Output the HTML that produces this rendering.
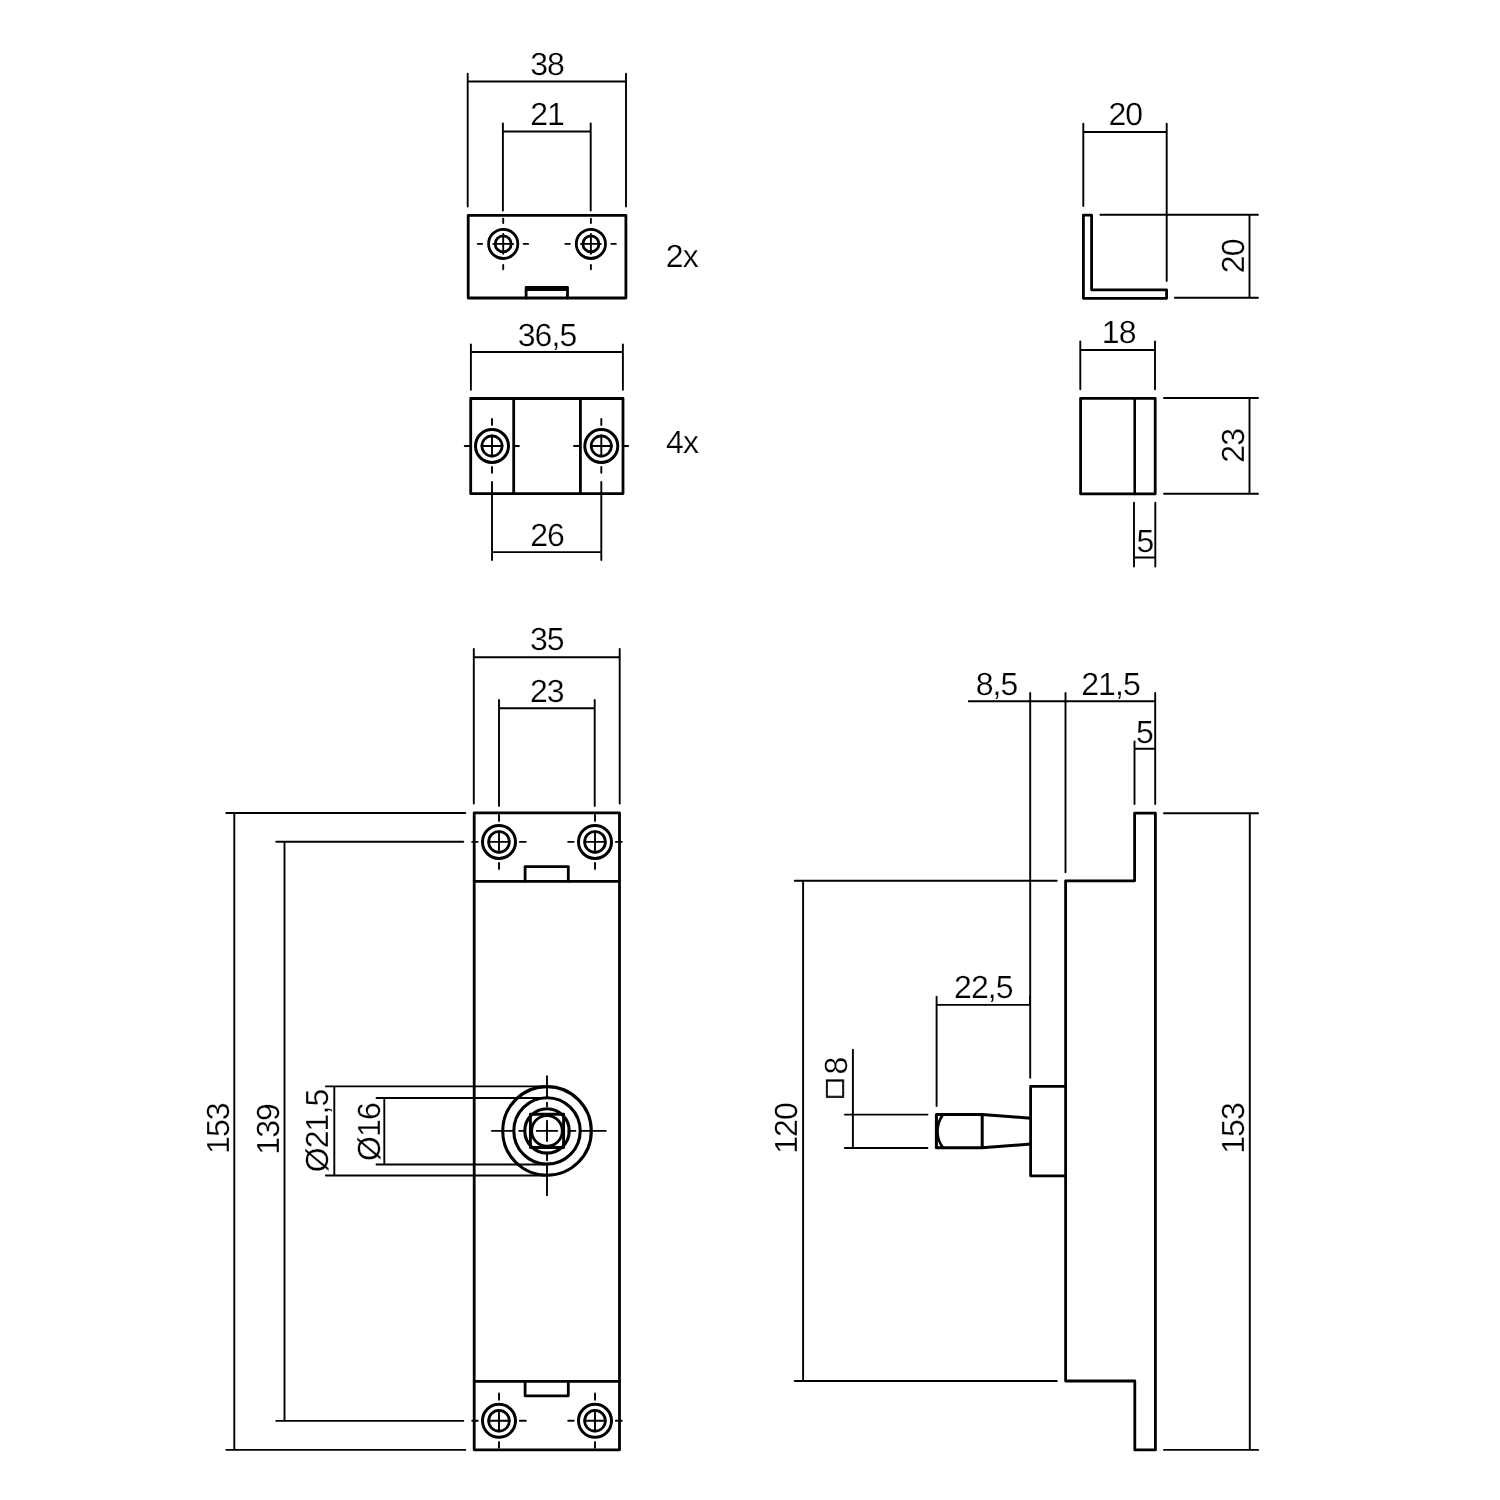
<!DOCTYPE html>
<html lang="en">
<head>
<meta charset="utf-8">
<title>Technical drawing</title>
<style>
html,body{margin:0;padding:0;background:#fff;}
body{width:1500px;height:1500px;overflow:hidden;}
svg{display:block;filter:grayscale(1);}
text{font-family:"Liberation Sans",sans-serif;fill:#000;stroke:#fff;stroke-width:0.25px;letter-spacing:-0.9px;paint-order:fill stroke;text-rendering:geometricPrecision;}
.sq{font-family:"DejaVu Sans",sans-serif;font-size:23px;stroke:#000;stroke-width:0.7px;letter-spacing:0;}
.t{stroke:#000;fill:none;stroke-linecap:round;}
.k{stroke:#000;fill:none;stroke-linejoin:round;stroke-linecap:round;}
</style>
</head>
<body>
<svg width="1500" height="1500" viewBox="0 0 1500 1500">
<rect width="1500" height="1500" fill="#fff"/>
<g class="labels">
<text x="547.05" y="74.7" text-anchor="middle" font-size="32">38</text>
<text x="547.05" y="124.8" text-anchor="middle" font-size="32">21</text>
<text x="665.8" y="266.5" text-anchor="start" font-size="32">2x</text>
<text x="547.05" y="345.5" text-anchor="middle" font-size="32">36,5</text>
<text x="547.05" y="546.1" text-anchor="middle" font-size="32">26</text>
<text x="666.1" y="452.9" text-anchor="start" font-size="32">4x</text>
<text x="1125.35" y="124.6" text-anchor="middle" font-size="32">20</text>
<text transform="translate(1244.4 256.25) rotate(-90)" text-anchor="middle" font-size="32">20</text>
<text x="1118.75" y="343.0" text-anchor="middle" font-size="32">18</text>
<text transform="translate(1244.4 445.85) rotate(-90)" text-anchor="middle" font-size="32">23</text>
<text x="1144.85" y="552.3" text-anchor="middle" font-size="32">5</text>
<text x="546.85" y="650.0" text-anchor="middle" font-size="32">35</text>
<text x="546.85" y="701.6" text-anchor="middle" font-size="32">23</text>
<text transform="translate(229.2 1128.65) rotate(-90)" text-anchor="middle" font-size="32">153</text>
<text transform="translate(279.4 1129.35) rotate(-90)" text-anchor="middle" font-size="32">139</text>
<text transform="translate(328.4 1130.95) rotate(-90)" text-anchor="middle" font-size="32">Ø21,5</text>
<text transform="translate(379.6 1132.05) rotate(-90)" text-anchor="middle" font-size="32">Ø16</text>
<text x="996.55" y="695.2" text-anchor="middle" font-size="32">8,5</text>
<text x="1110.55" y="695.2" text-anchor="middle" font-size="32">21,5</text>
<text x="1144.55" y="742.5" text-anchor="middle" font-size="32">5</text>
<text transform="translate(796.5 1128.45) rotate(-90)" text-anchor="middle" font-size="32">120</text>
<text x="983.35" y="998.4" text-anchor="middle" font-size="32">22,5</text>
<text transform="translate(847.3 1099.4) rotate(-90)" font-size="32"><tspan x="0" dy="-6.2" class="sq">□</tspan><tspan x="24.8" dy="6.2">8</tspan></text>
<text transform="translate(1244.2 1128.45) rotate(-90)" text-anchor="middle" font-size="32">153</text>
</g>
<g class="geometry">
<line x1="467.7" y1="73.7" x2="467.7" y2="206.6" class="t" stroke-width="1.9"/>
<line x1="626.0" y1="73.7" x2="626.0" y2="206.6" class="t" stroke-width="1.9"/>
<line x1="468.4" y1="81.5" x2="625.3" y2="81.5" class="t" stroke-width="1.9"/>
<line x1="502.9" y1="123.5" x2="502.9" y2="210.6" class="t" stroke-width="1.9"/>
<line x1="590.7" y1="123.5" x2="590.7" y2="210.6" class="t" stroke-width="1.9"/>
<line x1="503.6" y1="131.5" x2="590.0" y2="131.5" class="t" stroke-width="1.9"/>
<path d="M468.2,215.3H625.9V298H468.2Z" class="k" stroke-width="2.8"/>
<circle cx="503.2" cy="243.9" r="14.6" class="k" stroke-width="2.8"/>
<circle cx="503.2" cy="243.9" r="8.0" class="k" stroke-width="2.8"/>
<line x1="493.3" y1="243.9" x2="513.1" y2="243.9" class="t" stroke-width="1.9"/>
<line x1="503.2" y1="234.0" x2="503.2" y2="253.8" class="t" stroke-width="1.9"/>
<line x1="477.7" y1="243.9" x2="482.1" y2="243.9" class="t" stroke-width="1.9"/>
<line x1="523.7" y1="243.9" x2="528.1" y2="243.9" class="t" stroke-width="1.9"/>
<line x1="503.2" y1="218.7" x2="503.2" y2="223.1" class="t" stroke-width="1.9"/>
<line x1="503.2" y1="264.9" x2="503.2" y2="269.3" class="t" stroke-width="1.9"/>
<circle cx="590.9" cy="243.9" r="14.6" class="k" stroke-width="2.8"/>
<circle cx="590.9" cy="243.9" r="8.0" class="k" stroke-width="2.8"/>
<line x1="581.0" y1="243.9" x2="600.8" y2="243.9" class="t" stroke-width="1.9"/>
<line x1="590.9" y1="234.0" x2="590.9" y2="253.8" class="t" stroke-width="1.9"/>
<line x1="565.4" y1="243.9" x2="569.8" y2="243.9" class="t" stroke-width="1.9"/>
<line x1="611.4" y1="243.9" x2="615.8" y2="243.9" class="t" stroke-width="1.9"/>
<line x1="590.9" y1="218.7" x2="590.9" y2="223.1" class="t" stroke-width="1.9"/>
<line x1="590.9" y1="264.9" x2="590.9" y2="269.3" class="t" stroke-width="1.9"/>
<path d="M526.1,298V287.4H567.5V298M526.1,289.7H567.5" class="k" stroke-width="2.8"/>
<line x1="470.9" y1="344.4" x2="470.9" y2="389.7" class="t" stroke-width="1.9"/>
<line x1="622.9" y1="344.4" x2="622.9" y2="389.7" class="t" stroke-width="1.9"/>
<line x1="471.6" y1="352" x2="622.2" y2="352" class="t" stroke-width="1.9"/>
<path d="M470.7,398.5H623V493.6H470.7Z" class="k" stroke-width="2.8"/>
<path d="M513.7,398.5V493.6M580.4,398.5V493.6" class="k" stroke-width="2.8"/>
<circle cx="492" cy="446" r="16.5" class="k" stroke-width="3"/>
<circle cx="492" cy="446" r="10.1" class="k" stroke-width="2.7"/>
<line x1="481.5" y1="446" x2="502.5" y2="446" class="t" stroke-width="1.9"/>
<line x1="492" y1="435.5" x2="492" y2="456.5" class="t" stroke-width="1.9"/>
<line x1="464.7" y1="446" x2="469.3" y2="446" class="t" stroke-width="1.9"/>
<line x1="514.7" y1="446" x2="518.9" y2="446" class="t" stroke-width="1.9"/>
<line x1="492" y1="418.9" x2="492" y2="424.9" class="t" stroke-width="1.9"/>
<line x1="492" y1="466.9" x2="492" y2="472.7" class="t" stroke-width="1.9"/>
<circle cx="601.3" cy="446" r="16.5" class="k" stroke-width="3"/>
<circle cx="601.3" cy="446" r="10.1" class="k" stroke-width="2.7"/>
<line x1="590.8" y1="446" x2="611.8" y2="446" class="t" stroke-width="1.9"/>
<line x1="601.3" y1="435.5" x2="601.3" y2="456.5" class="t" stroke-width="1.9"/>
<line x1="574.0" y1="446" x2="578.6" y2="446" class="t" stroke-width="1.9"/>
<line x1="624.0" y1="446" x2="628.2" y2="446" class="t" stroke-width="1.9"/>
<line x1="601.3" y1="418.9" x2="601.3" y2="424.9" class="t" stroke-width="1.9"/>
<line x1="601.3" y1="466.9" x2="601.3" y2="472.7" class="t" stroke-width="1.9"/>
<line x1="492" y1="482.0" x2="492" y2="560.0" class="t" stroke-width="1.9"/>
<line x1="601.3" y1="482.0" x2="601.3" y2="560.0" class="t" stroke-width="1.9"/>
<line x1="492.7" y1="552.1" x2="600.6" y2="552.1" class="t" stroke-width="1.9"/>
<line x1="1083.3" y1="123.7" x2="1083.3" y2="206.0" class="t" stroke-width="1.9"/>
<line x1="1166.7" y1="123.7" x2="1166.7" y2="281.0" class="t" stroke-width="1.9"/>
<line x1="1084.0" y1="132" x2="1166.0" y2="132" class="t" stroke-width="1.9"/>
<path d="M1083.4,215.2H1091.6V289.8H1166.6V298.3H1083.4Z" class="k" stroke-width="2.8"/>
<line x1="1100.4" y1="214.7" x2="1258.0" y2="214.7" class="t" stroke-width="1.9"/>
<line x1="1174.9" y1="297.8" x2="1258.0" y2="297.8" class="t" stroke-width="1.9"/>
<line x1="1249.5" y1="215.4" x2="1249.5" y2="297.1" class="t" stroke-width="1.9"/>
<line x1="1080.3" y1="341.5" x2="1080.3" y2="389.3" class="t" stroke-width="1.9"/>
<line x1="1155" y1="341.5" x2="1155" y2="389.3" class="t" stroke-width="1.9"/>
<line x1="1081.0" y1="350" x2="1154.3" y2="350" class="t" stroke-width="1.9"/>
<path d="M1080.6,398.3H1155.2V493.9H1080.6Z" class="k" stroke-width="2.8"/>
<path d="M1134.7,398.3V493.9" class="k" stroke-width="2.6"/>
<line x1="1164.0" y1="398" x2="1258.0" y2="398" class="t" stroke-width="1.9"/>
<line x1="1164.0" y1="493.8" x2="1258.0" y2="493.8" class="t" stroke-width="1.9"/>
<line x1="1249.5" y1="398.7" x2="1249.5" y2="493.1" class="t" stroke-width="1.9"/>
<line x1="1134" y1="502.7" x2="1134" y2="566.6" class="t" stroke-width="1.9"/>
<line x1="1155.3" y1="502.7" x2="1155.3" y2="566.6" class="t" stroke-width="1.9"/>
<line x1="1134.7" y1="557.5" x2="1154.6" y2="557.5" class="t" stroke-width="1.9"/>
<line x1="473.8" y1="649.0" x2="473.8" y2="803.5" class="t" stroke-width="1.9"/>
<line x1="619.7" y1="649.0" x2="619.7" y2="803.5" class="t" stroke-width="1.9"/>
<line x1="474.5" y1="657.2" x2="619.0" y2="657.2" class="t" stroke-width="1.9"/>
<line x1="499" y1="699.9" x2="499" y2="806.0" class="t" stroke-width="1.9"/>
<line x1="594.7" y1="699.9" x2="594.7" y2="806.0" class="t" stroke-width="1.9"/>
<line x1="499.7" y1="708.3" x2="594.0" y2="708.3" class="t" stroke-width="1.9"/>
<path d="M474.2,812.8H619.5V1449.8H474.2Z" class="k" stroke-width="2.8"/>
<path d="M474.2,881.3H619.5M474.2,1381.3H619.5" class="k" stroke-width="2.8"/>
<path d="M525.1,881.3V866.6H568.3V881.3M525.1,1381.3V1395.8H568.3V1381.3" class="k" stroke-width="2.8"/>
<circle cx="499" cy="841.9" r="16.5" class="k" stroke-width="3"/>
<circle cx="499" cy="841.9" r="10.4" class="k" stroke-width="2.7"/>
<line x1="488.4" y1="841.9" x2="509.6" y2="841.9" class="t" stroke-width="1.9"/>
<line x1="499" y1="831.3" x2="499" y2="852.5" class="t" stroke-width="1.9"/>
<line x1="472.2" y1="841.9" x2="477.7" y2="841.9" class="t" stroke-width="1.9"/>
<line x1="519.9" y1="841.9" x2="525.8" y2="841.9" class="t" stroke-width="1.9"/>
<line x1="499" y1="814.6" x2="499" y2="820.9" class="t" stroke-width="1.9"/>
<line x1="499" y1="863.0" x2="499" y2="868.9" class="t" stroke-width="1.9"/>
<circle cx="595" cy="841.9" r="16.5" class="k" stroke-width="3"/>
<circle cx="595" cy="841.9" r="10.4" class="k" stroke-width="2.7"/>
<line x1="584.4" y1="841.9" x2="605.6" y2="841.9" class="t" stroke-width="1.9"/>
<line x1="595" y1="831.3" x2="595" y2="852.5" class="t" stroke-width="1.9"/>
<line x1="568.2" y1="841.9" x2="573.7" y2="841.9" class="t" stroke-width="1.9"/>
<line x1="615.9" y1="841.9" x2="621.8" y2="841.9" class="t" stroke-width="1.9"/>
<line x1="595" y1="814.6" x2="595" y2="820.9" class="t" stroke-width="1.9"/>
<line x1="595" y1="863.0" x2="595" y2="868.9" class="t" stroke-width="1.9"/>
<circle cx="499" cy="1420.8" r="16.5" class="k" stroke-width="3"/>
<circle cx="499" cy="1420.8" r="10.4" class="k" stroke-width="2.7"/>
<line x1="488.4" y1="1420.8" x2="509.6" y2="1420.8" class="t" stroke-width="1.9"/>
<line x1="499" y1="1410.2" x2="499" y2="1431.4" class="t" stroke-width="1.9"/>
<line x1="472.2" y1="1420.8" x2="477.7" y2="1420.8" class="t" stroke-width="1.9"/>
<line x1="519.9" y1="1420.8" x2="525.8" y2="1420.8" class="t" stroke-width="1.9"/>
<line x1="499" y1="1393.5" x2="499" y2="1399.8" class="t" stroke-width="1.9"/>
<line x1="499" y1="1441.9" x2="499" y2="1447.8" class="t" stroke-width="1.9"/>
<circle cx="595" cy="1420.8" r="16.5" class="k" stroke-width="3"/>
<circle cx="595" cy="1420.8" r="10.4" class="k" stroke-width="2.7"/>
<line x1="584.4" y1="1420.8" x2="605.6" y2="1420.8" class="t" stroke-width="1.9"/>
<line x1="595" y1="1410.2" x2="595" y2="1431.4" class="t" stroke-width="1.9"/>
<line x1="568.2" y1="1420.8" x2="573.7" y2="1420.8" class="t" stroke-width="1.9"/>
<line x1="615.9" y1="1420.8" x2="621.8" y2="1420.8" class="t" stroke-width="1.9"/>
<line x1="595" y1="1393.5" x2="595" y2="1399.8" class="t" stroke-width="1.9"/>
<line x1="595" y1="1441.9" x2="595" y2="1447.8" class="t" stroke-width="1.9"/>
<line x1="226.3" y1="813" x2="465.3" y2="813" class="t" stroke-width="1.9"/>
<line x1="226.3" y1="1449.9" x2="465.3" y2="1449.9" class="t" stroke-width="1.9"/>
<line x1="276.3" y1="841.7" x2="463.3" y2="841.7" class="t" stroke-width="1.9"/>
<line x1="276.3" y1="1420.9" x2="463.3" y2="1420.9" class="t" stroke-width="1.9"/>
<line x1="234.3" y1="813.7" x2="234.3" y2="1449.2" class="t" stroke-width="1.9"/>
<line x1="284.5" y1="842.4" x2="284.5" y2="1420.2" class="t" stroke-width="1.9"/>
<line x1="325.9" y1="1086.4" x2="544.3" y2="1086.4" class="t" stroke-width="1.9"/>
<line x1="325.9" y1="1175.5" x2="544.3" y2="1175.5" class="t" stroke-width="1.9"/>
<line x1="334.3" y1="1087.1" x2="334.3" y2="1174.8" class="t" stroke-width="1.9"/>
<line x1="376.5" y1="1098" x2="544.3" y2="1098" class="t" stroke-width="1.9"/>
<line x1="376.5" y1="1164.5" x2="544.3" y2="1164.5" class="t" stroke-width="1.9"/>
<line x1="384.3" y1="1098.7" x2="384.3" y2="1163.8" class="t" stroke-width="1.9"/>
<circle cx="547" cy="1130.9" r="44.3" class="k" stroke-width="3.1"/>
<circle cx="547" cy="1130.9" r="33.2" class="k" stroke-width="3.1"/>
<circle cx="547" cy="1130.9" r="22.2" class="k" stroke-width="3.1"/>
<path d="M530.4,1114.3000000000002H563.6V1147.5H530.4Z" class="k" stroke-width="2.9"/>
<circle cx="547" cy="1130.9" r="15.3" class="k" stroke-width="2.8"/>
<line x1="536.8" y1="1130.9" x2="557.2" y2="1130.9" class="t" stroke-width="1.9"/>
<line x1="547" y1="1120.7" x2="547" y2="1141.1" class="t" stroke-width="1.9"/>
<line x1="492.0" y1="1130.9" x2="512.0" y2="1130.9" class="t" stroke-width="1.9"/>
<line x1="519.2" y1="1130.9" x2="524.8" y2="1130.9" class="t" stroke-width="1.9"/>
<line x1="568.3" y1="1130.9" x2="575.4" y2="1130.9" class="t" stroke-width="1.9"/>
<line x1="581.6" y1="1130.9" x2="605.8" y2="1130.9" class="t" stroke-width="1.9"/>
<line x1="547" y1="1076.2" x2="547" y2="1096.6" class="t" stroke-width="1.9"/>
<line x1="547" y1="1102.8" x2="547" y2="1106.2" class="t" stroke-width="1.9"/>
<line x1="547" y1="1152.7" x2="547" y2="1160.3" class="t" stroke-width="1.9"/>
<line x1="547" y1="1165.8" x2="547" y2="1195.3" class="t" stroke-width="1.9"/>
<line x1="968.8" y1="701.2" x2="1154.5" y2="701.2" class="t" stroke-width="1.9"/>
<line x1="1030.2" y1="692.9" x2="1030.2" y2="1077.7" class="t" stroke-width="1.9"/>
<line x1="1065.5" y1="692.9" x2="1065.5" y2="872.2" class="t" stroke-width="1.9"/>
<line x1="1155.2" y1="692.9" x2="1155.2" y2="804.0" class="t" stroke-width="1.9"/>
<line x1="1134.5" y1="741.4" x2="1134.5" y2="804.0" class="t" stroke-width="1.9"/>
<line x1="1135.2" y1="748.8" x2="1154.5" y2="748.8" class="t" stroke-width="1.9"/>
<path d="M1065.6,880.8H1134.6V813.2H1155.4V1449.9H1134.8V1381H1065.6Z" class="k" stroke-width="2.8"/>
<path d="M1065.6,1086.4H1030.6V1175.8H1065.6" class="k" stroke-width="2.8"/>
<path d="M1030.6,1118.2L982.2,1114.6H936.4V1147.8H982.2L1030.6,1144M982.2,1114.6V1147.8" class="k" stroke-width="3" stroke-linejoin="round"/>
<path d="M943,1114.6A27.8,27.8 0 0 0 943,1147.8" class="k" stroke-width="2.6"/>
<line x1="794.7" y1="880.8" x2="1056.8" y2="880.8" class="t" stroke-width="1.9"/>
<line x1="794.7" y1="1381" x2="1056.8" y2="1381" class="t" stroke-width="1.9"/>
<line x1="803.1" y1="881.5" x2="803.1" y2="1380.3" class="t" stroke-width="1.9"/>
<line x1="936.6" y1="996.7" x2="936.6" y2="1106.1" class="t" stroke-width="1.9"/>
<line x1="1030" y1="996.7" x2="1030" y2="1004.2" class="t" stroke-width="1.9"/>
<line x1="937.3" y1="1004.9" x2="1029.3" y2="1004.9" class="t" stroke-width="1.9"/>
<line x1="852.9" y1="1049.7" x2="852.9" y2="1147.3" class="t" stroke-width="1.9"/>
<line x1="844.9" y1="1114.6" x2="927.5" y2="1114.6" class="t" stroke-width="1.9"/>
<line x1="844.9" y1="1148" x2="927.5" y2="1148" class="t" stroke-width="1.9"/>
<line x1="1164.0" y1="813.2" x2="1258.1" y2="813.2" class="t" stroke-width="1.9"/>
<line x1="1164.0" y1="1449.9" x2="1258.1" y2="1449.9" class="t" stroke-width="1.9"/>
<line x1="1249.8" y1="813.9" x2="1249.8" y2="1449.2" class="t" stroke-width="1.9"/>
</g>
</svg>
</body>
</html>
